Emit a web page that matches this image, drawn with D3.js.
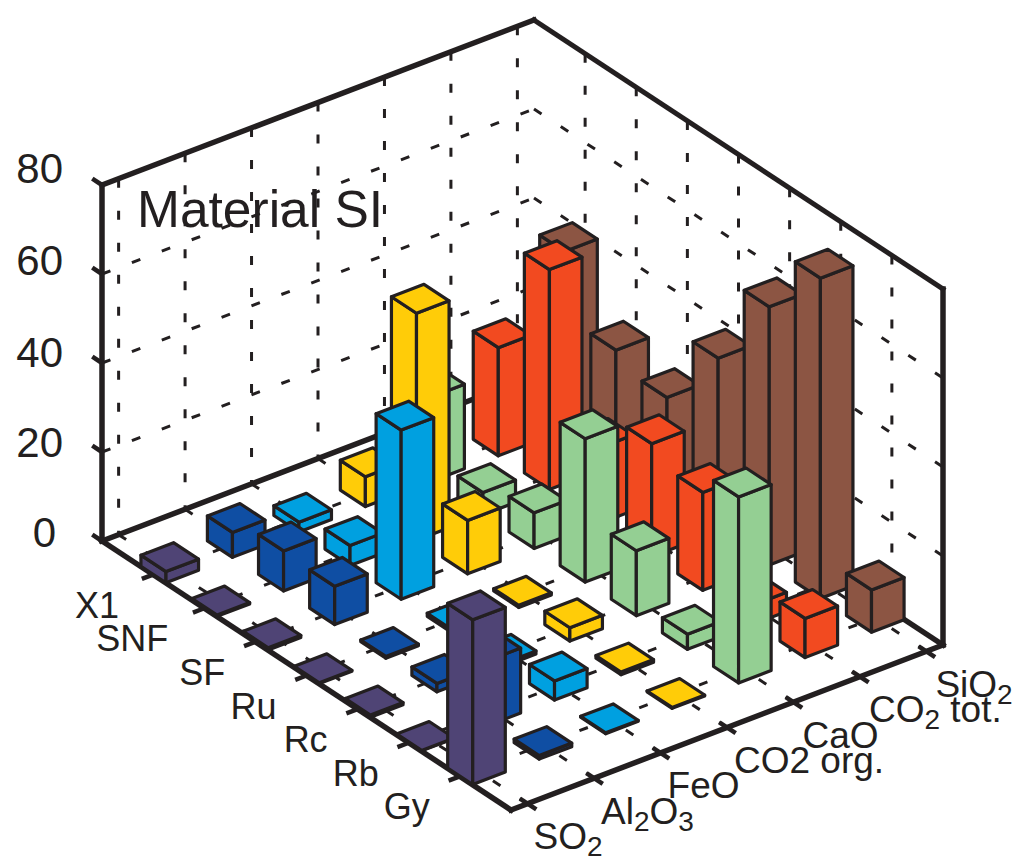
<!DOCTYPE html>
<html>
<head>
<meta charset="utf-8">
<style>html,body{margin:0;padding:0;background:#fff}svg{display:block}text{font-family:"Liberation Sans",Arial,sans-serif;fill:#231f20}</style>
<script src="https://cdn.jsdelivr.net/npm/d3@7/dist/d3.min.js"></script>
</head>
<body>
<script>
const rows = ["X1","SNF","SF","Ru","Rc","Rb","Gy"];
const columns = [
  [["SO"],["2",1]],
  [["Al"],["2",1],["O"],["3",1]],
  [["FeO"]],
  [["CO2 org."]],
  [["CaO"]],
  [["CO"],["2",1],[" tot."]],
  [["SiO"],["2",1]]
];
const zTicks = [0,20,40,60,80];
const title = "Material SI";

const so2    = [2.5,0.3,0.5,0.2,0.5,0.1,37];
const al2o3  = [5.6,9,8.6,0.4,1.9,14.6,0.8];
const feo    = [2.2,4.5,38,0.7,0.7,4.3,0.2];
const co2org = [6.7,51,12,0.5,3,0.6,0.2];
const cao    = [19,5,8,32.2,14.6,3.4,41.8];
const co2tot = [24.3,49.4,17,25.4,22,4.3,8.8];
const sio2   = [40.2,25.6,22.5,38.9,58,72,9.5];
const series = [so2,al2o3,feo,co2org,cao,co2tot,sio2];
const colors = ["#4f4475","#0f4ea3","#00a0e0","#ffcc08","#94cf93","#f24a20","#8c5543"];

const ink = "#231f20";
const W = 1014, H = 862;
const ox = 102, oy = 541;
const uX = d3.scaleLinear().domain([0,8]).range([0,409]);
const uY = d3.scaleLinear().domain([0,8]).range([0,269]);
const vX = d3.scaleLinear().domain([0.75,7.25]).range([0,432]);
const vY = d3.scaleLinear().domain([0.75,7.25]).range([0,-165]);
const zY = d3.scaleLinear().domain([0,80]).range([0,-356]);
const P = (u,v,z=0) => [ox+uX(u)+vX(v), oy+uY(u)+vY(v)+zY(z)];
const U0=0,U1=8,V0=0.75,V1=7.25,Z1=80;

const svg = d3.select("body").append("svg").attr("width",W).attr("height",H);
const line = (g,a,b,w,dash) => g.append("line")
  .attr("x1",a[0]).attr("y1",a[1]).attr("x2",b[0]).attr("y2",b[1])
  .attr("stroke",ink).attr("stroke-width",w).attr("stroke-dasharray",dash||null).attr("stroke-linecap","butt");

const DASH = "9 23";
const GW = 3;
const grid = svg.append("g");
const uVals = d3.range(1,8), vVals = d3.range(1,8);
// walls
vVals.forEach(v => line(grid,P(U0,v,Z1),P(U0,v,0),GW,DASH));
uVals.forEach(u => line(grid,P(u,V1,Z1),P(u,V1,0),GW,DASH));
[20,40,60].forEach(z => {
  line(grid,P(U0,V0,z),P(U0,V1,z),GW,DASH);
  line(grid,P(U0,V1,z),P(U1,V1,z),GW,DASH);
});
// floor
vVals.forEach(v => line(grid,P(U0,v),P(U1,v),GW,DASH));
uVals.forEach(u => line(grid,P(u,V0),P(u,V1),GW,DASH));

// frame
const frame = svg.append("g");
const frameLines = [
  [P(U0,V0,0),P(U0,V0,Z1),5.5],
  [P(U0,V0,Z1),P(U0,V1,Z1),5.5],
  [P(U0,V1,Z1),P(U1,V1,Z1),5],
  [P(U1,V1,Z1),P(U1,V1,0),5.5],
  [P(U0,V0,0),P(U1,V0,0),5.5],
  [P(U1,V0,0),P(U1,V1,0),5.5],
  [P(U0,V0,0),P(U0,V1,0),5.5],
  [P(U0,V1,0),P(U1,V1,0),5.5]
];
frameLines.forEach(l => line(frame,l[0],l[1],l[2]).attr("stroke-linecap","square"));
uVals.forEach(u => line(frame,P(u,V0-0.17),P(u,V0),4.5));
vVals.forEach(v => line(frame,P(U1-0.15,v),P(U1+0.17,v),4.5));
zTicks.forEach(z => line(frame,P(U0-0.19,V0,z),P(U0,V0,z),4.5));

// bars, back to front
const hw = 0.245;
const bars = [];
series.forEach((s,ci) => s.forEach((val,ri) => bars.push({u:ri+1,v:ci+1,val,color:colors[ci]})));
bars.sort((a,b) => (a.u-a.v)-(b.u-b.v));
const gb = svg.append("g").attr("stroke",ink).attr("stroke-width",3.2).attr("stroke-linejoin","round");
const poly = (g,pts,fill) => g.append("polygon").attr("points",pts.map(p=>p.join(",")).join(" ")).attr("fill",fill);
bars.forEach(b => {
  const a0=b.u-hw,a1=b.u+hw,c0=b.v-hw,c1=b.v+hw,z=b.val;
  poly(gb,[P(a0,c0,0),P(a1,c0,0),P(a1,c0,z),P(a0,c0,z)],b.color);
  poly(gb,[P(a1,c0,0),P(a1,c1,0),P(a1,c1,z),P(a1,c0,z)],b.color);
  poly(gb,[P(a0,c0,z),P(a1,c0,z),P(a1,c1,z),P(a0,c1,z)],b.color);
});

// text
const zBase = {0:547,20:457,40:367,60:275,80:183};
zTicks.forEach(z => svg.append("text").attr("x",z===0?56:63).attr("y",zBase[z])
  .attr("text-anchor","end").attr("font-size",42).text(z));
svg.append("text").attr("x",137).attr("y",227).attr("font-size",51.5).text(title);

const rowNudge = [-4,-6,0,0,0,0,0];
rows.forEach((r,i) => {
  const p = P(i+1,V0);
  svg.append("text").attr("x",p[0]-30+rowNudge[i]).attr("y",p[1]+43)
    .attr("text-anchor","end").attr("font-size",36).text(r);
});
columns.forEach((parts,i) => {
  const p = P(U1,i+1);
  const t = svg.append("text").attr("x",p[0]+6+(i>3?3:i>0?1:0)).attr("y",p[1]+45.5).attr("font-size",37);
  let prevSub = false;
  parts.forEach(part => {
    const sub = !!part[1];
    const dy = sub ? 7 : (prevSub ? -7 : 0);
    t.append("tspan").attr("dy",dy).attr("font-size",sub?28:37).attr("xml:space","preserve").text(part[0]);
    prevSub = sub;
  });
});
</script>
</body>
</html>
